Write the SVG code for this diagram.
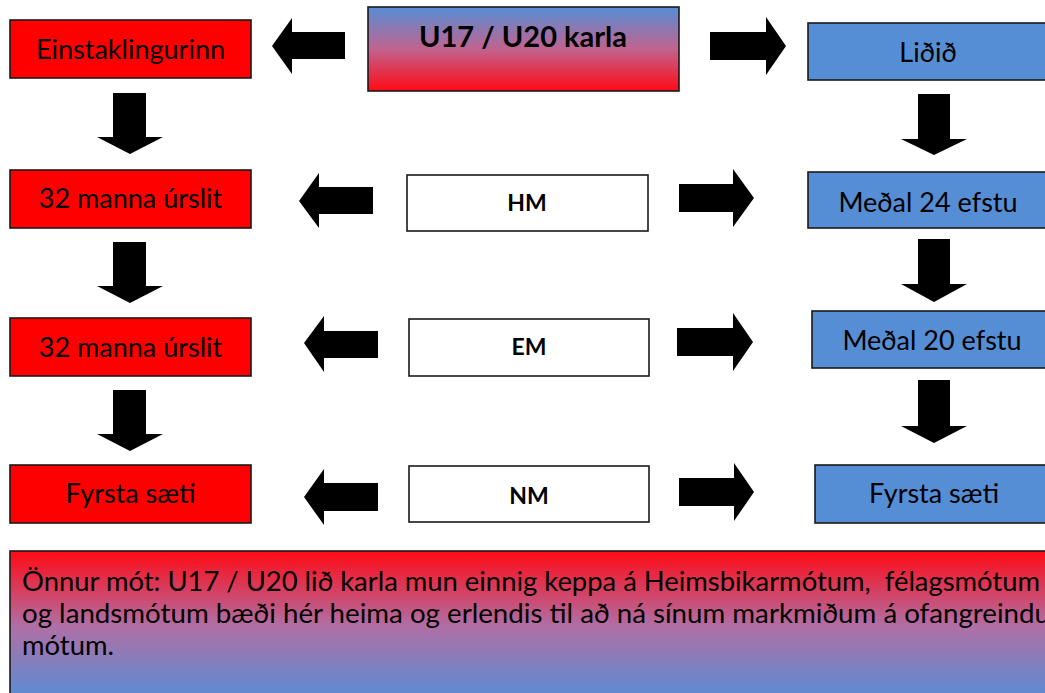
<svg xmlns="http://www.w3.org/2000/svg" width="1045" height="693" viewBox="0 0 1045 693">
<defs>
<linearGradient id="gTitle" x1="0" y1="0" x2="0" y2="1">
<stop offset="0" stop-color="#558ED5"/>
<stop offset="0.5" stop-color="#C1638F"/>
<stop offset="1" stop-color="#FF0A14"/>
</linearGradient>
<linearGradient id="gNote" x1="0" y1="0" x2="0" y2="1">
<stop offset="0" stop-color="#FF0A14"/>
<stop offset="0.5" stop-color="#B06FA6"/>
<stop offset="1" stop-color="#558ED5"/>
</linearGradient>
</defs>
<style>
.red{fill:#FF0000;stroke:#1a1a1a;stroke-width:1.6}
.blue{fill:#558ED5;stroke:#1a1a1a;stroke-width:1.6}
.white{fill:#FFFFFF;stroke:#1a1a1a;stroke-width:1.6}
.t{font-family:Lato,"Liberation Sans",sans-serif;font-size:27px;fill:#000;text-anchor:middle}
.b{font-family:Lato,"Liberation Sans",sans-serif;font-size:23px;font-weight:bold;fill:#000;text-anchor:middle}
.note{font-family:Lato,"Liberation Sans",sans-serif;font-size:26px;fill:#000;white-space:pre}
.arr{fill:#000}
</style>
<rect width="1045" height="693" fill="#fff"/>

<g id="title">
<rect x="368" y="7" width="311" height="84" fill="url(#gTitle)" stroke="#1a1a1a" stroke-width="1.6"/>
<text x="523" y="47" class="b" style="font-size:29px">U17 / U20 karla</text>
</g>

<g id="einstaklingurinn"><rect class="red" x="10" y="20" width="241" height="58"/><text class="t" x="130.5" y="59">Einstaklingurinn</text></g>
<g id="ind-hm"><rect class="red" x="10" y="170" width="241" height="58"/><text class="t" x="130.5" y="208">32 manna úrslit</text></g>
<g id="ind-em"><rect class="red" x="10" y="318" width="241" height="58"/><text class="t" x="130.5" y="357">32 manna úrslit</text></g>
<g id="ind-nm"><rect class="red" x="10" y="465" width="241" height="58"/><text class="t" x="130.5" y="503">Fyrsta sæti</text></g>

<g id="hm"><rect class="white" x="407" y="175" width="241" height="56"/><text class="b" x="527" y="211">HM</text></g>
<g id="em"><rect class="white" x="409" y="319" width="240" height="57"/><text class="b" x="529" y="355">EM</text></g>
<g id="nm"><rect class="white" x="409" y="466" width="240" height="56"/><text class="b" x="529" y="504">NM</text></g>

<g id="lidid"><rect class="blue" x="808" y="23" width="240" height="57"/><text class="t" x="928" y="62">Liðið</text></g>
<g id="team-hm"><rect class="blue" x="808" y="172" width="240" height="56"/><text class="t" x="928" y="212">Meðal 24 efstu</text></g>
<g id="team-em"><rect class="blue" x="812" y="311" width="240" height="57"/><text class="t" x="932" y="350">Meðal 20 efstu</text></g>
<g id="team-nm"><rect class="blue" x="815" y="465" width="240" height="58"/><text class="t" x="934" y="503">Fyrsta sæti</text></g>

<g id="note">
<rect x="10" y="551" width="1045" height="150" fill="url(#gNote)" stroke="#1a1a1a" stroke-width="1.6"/>
<text class="note" x="22" y="591" textLength="1018" lengthAdjust="spacingAndGlyphs" xml:space="preserve">Önnur mót: U17 / U20 lið karla mun einnig keppa á Heimsbikarmótum,  félagsmótum</text>
<text class="note" x="22" y="623" textLength="1028" lengthAdjust="spacingAndGlyphs">og landsmótum bæði hér heima og erlendis til að ná sínum markmiðum á ofangreindu</text>
<text class="note" x="22" y="655" textLength="92" lengthAdjust="spacingAndGlyphs">mótum.</text>
</g>

<g id="connectors" class="arr">
<polygon points="113,93 146,93 146,137 163,137 130,154 97,137 113,137"/>
<polygon points="113,242 146,242 146,286 163,286 130,303 97,286 113,286"/>
<polygon points="113,390 146,390 146,434 163,434 130,451 97,434 113,434"/>
<polygon points="918,94 950,94 950,139 967,139 934,155 901,139 918,139"/>
<polygon points="918,239 950,239 950,284 967,284 934,302 901,284 918,284"/>
<polygon points="918,380 950,380 950,426 967,426 934,443 901,426 918,426"/>
<polygon points="345,32 345,59 292,59 292,74 272,46 292,18 292,32"/>
<polygon points="373,187 373,214 319,214 319,228 299,201 319,173 319,187"/>
<polygon points="378,331 378,358 324,358 324,372 304,343 324,316 324,331"/>
<polygon points="378,483 378,511 324,511 324,525 304,497 324,469 324,483"/>
<polygon points="710,32 766,32 766,17 786,46 766,75 766,60 710,60"/>
<polygon points="679,184 733,184 733,169 754,198 733,227 733,212 679,212"/>
<polygon points="677,328 733,328 733,313 753,342 733,371 733,356 677,356"/>
<polygon points="679,478 734,478 734,463 754,492 734,521 734,506 679,506"/>
</g>
</svg>
